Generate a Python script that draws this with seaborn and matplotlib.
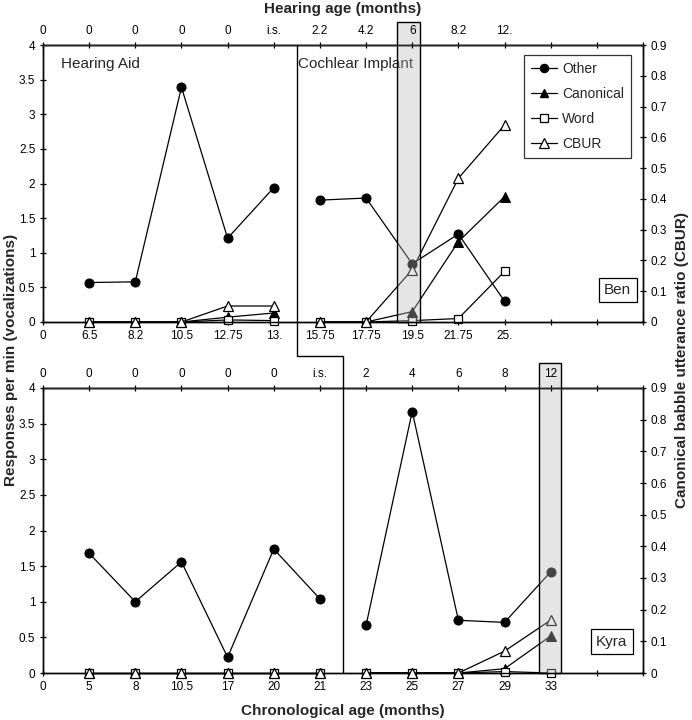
import matplotlib
matplotlib.use("Agg")
import matplotlib.pyplot as plt
import matplotlib.patches as mpatches
from matplotlib.lines import Line2D
import seaborn as sns
import numpy as np
import pandas as pd

sns.set_theme(style="white")
plt.rcParams['font.family'] = ['Liberation Sans', 'DejaVu Sans']

# ---------------- data ----------------
# Ben (top panel)
ben_chrono = ["0", "6.5", "8.2", "10.5", "12.75", "13.", "15.75", "17.75", "19.5", "21.75", "25.", "", ""]
ben_hearing = ["0", "0", "0", "0", "0", "i.s.", "2.2", "4.2", "6", "8.2", "12.", "", ""]
ben_ha_idx = [1, 2, 3, 4, 5]
ben_ci_idx = [6, 7, 8, 9, 10]
ben_other = [0.57, 0.58, 3.39, 1.21, 1.94, 1.76, 1.79, 0.84, 1.27, 0.30]
ben_canonical = [0.0, 0.0, 0.0, 0.07, 0.13, 0.0, 0.0, 0.15, 1.16, 1.81]
ben_word = [0.0, 0.0, 0.0, 0.03, 0.02, 0.0, 0.0, 0.02, 0.05, 0.73]
ben_cbur = [0.0, 0.0, 0.0, 0.052, 0.052, 0.0, 0.0, 0.17, 0.467, 0.64]

# Kyra (bottom panel)
kyra_chrono = ["0", "5", "8", "10.5", "17", "20", "21", "23", "25", "27", "29", "33", ""]
kyra_hearing = ["0", "0", "0", "0", "0", "0", "i.s.", "2", "4", "6", "8", "12", ""]
kyra_ha_idx = [1, 2, 3, 4, 5, 6]
kyra_ci_idx = [7, 8, 9, 10, 11]
kyra_other = [1.68, 1.00, 1.56, 0.22, 1.74, 1.04, 0.67, 3.67, 0.74, 0.71, 1.42]
kyra_canonical = [0.0, 0.0, 0.0, 0.0, 0.0, 0.0, 0.0, 0.0, 0.0, 0.06, 0.52]
kyra_word = [0.0, 0.0, 0.0, 0.0, 0.0, 0.0, 0.0, 0.0, 0.0, 0.02, 0.0]
kyra_cbur = [0.0, 0.0, 0.0, 0.0, 0.0, 0.0, 0.0, 0.0, 0.0, 0.069, 0.167]

series_names = ["Other", "Canonical", "Word", "CBUR"]

W, H, DPI = 692, 720, 100
fig = plt.figure(figsize=(W / DPI, H / DPI), dpi=DPI)

LW = 0.9
TICK_FS = 8.5
styles = {
    "Other": dict(marker="o", mfc="black", mec="black", ms=6.5),
    "Canonical": dict(marker="^", mfc="black", mec="black", ms=7),
    "Word": dict(marker="s", mfc="white", mec="black", ms=6, mew=0.9),
    "CBUR": dict(marker="^", mfc="white", mec="black", ms=7.5, mew=0.9),
}


def make_panel(rect, chrono, hearing, ha_idx, ci_idx, other, canonical, word, cbur,
               shade, name, name_box, show_section_labels, show_legend):
    ax = fig.add_axes(rect)
    ax2 = ax.twinx()
    n = len(chrono)
    pos = list(range(n))
    idx = ha_idx + ci_idx
    df = pd.DataFrame({
        "pos": idx * 4,
        "value": other + canonical + word + cbur,
        "series": np.repeat(series_names, len(idx)),
        "segment": (["HA"] * len(ha_idx) + ["CI"] * len(ci_idx)) * 4,
    })
    for s in series_names:
        target = ax2 if s == "CBUR" else ax
        for seg in ["HA", "CI"]:
            sub = df[(df.series == s) & (df.segment == seg)]
            sns.lineplot(data=sub, x="pos", y="value", ax=target, color="black",
                         linewidth=LW, estimator=None, sort=False, legend=False,
                         clip_on=False, zorder=3 if s != "Other" else 4,
                         **styles[s])
    ax.set_xlim(0, n)
    ax.set_ylim(0, 4)
    ax2.set_ylim(0, 0.9)
    ax.set_xticks(pos + [n])
    ax.set_xticklabels(chrono + [""], fontsize=TICK_FS)
    ax.set_yticks([0, 0.5, 1, 1.5, 2, 2.5, 3, 3.5, 4])
    ax.set_yticklabels(["0", "0.5", "1", "1.5", "2", "2.5", "3", "3.5", "4"], fontsize=TICK_FS)
    ax2.set_yticks(np.round(np.arange(0, 0.91, 0.1), 1))
    ax2.set_yticklabels(["0", "0.1", "0.2", "0.3", "0.4", "0.5", "0.6", "0.7", "0.8", "0.9"],
                        fontsize=TICK_FS)
    for a in (ax, ax2):
        a.set_xlabel("")
        a.set_ylabel("")
        for sp in a.spines.values():
            sp.set_color("black")
            sp.set_linewidth(1.0)
    ax.tick_params(axis="both", direction="inout", length=5, width=0.9, colors="black",
                   pad=3, left=True, bottom=True)
    ax2.tick_params(axis="y", direction="inout", length=5, width=0.9, colors="black",
                    pad=3, right=True)
    # top hearing-age axis
    sec = ax2.secondary_xaxis("top")
    sec.set_xticks(pos + [n])
    sec.set_xticklabels(hearing + [""], fontsize=TICK_FS)
    sec.tick_params(direction="inout", length=5, width=0.9, colors="black", pad=3)
    sec.spines["top"].set_linewidth(1.0)
    sec.set_zorder(20)
    # shaded column
    trans = matplotlib.transforms.blended_transform_factory(ax2.transData, ax2.transAxes)
    rect_p = mpatches.Rectangle((shade[0], 0), shade[1] - shade[0], shade[2],
                                transform=trans, facecolor=(0.73, 0.73, 0.73),
                                alpha=0.37, edgecolor="none", clip_on=False, zorder=10)
    ax2.add_patch(rect_p)
    rect_e = mpatches.Rectangle((shade[0], 0), shade[1] - shade[0], shade[2],
                                transform=trans, facecolor="none",
                                edgecolor="black", linewidth=1.0, clip_on=False, zorder=11)
    ax2.add_patch(rect_e)
    # child name box
    ax2.text(name_box[0], name_box[1], name, transform=ax2.transAxes, fontsize=11,
             ha="center", va="center", zorder=12,
             bbox=dict(boxstyle="square,pad=0.35", facecolor="white", edgecolor="black",
                       linewidth=0.9))
    if show_section_labels:
        ax.text(0.03, 0.955, "Hearing Aid", transform=ax.transAxes, fontsize=11,
                ha="left", va="top")
        ax.text(5.53, 3.82, "Cochlear Implant", fontsize=11, ha="left", va="top")
    if show_legend:
        handles = [Line2D([0], [0], color="black", linewidth=LW, **styles[s]) for s in series_names]
        leg = ax2.legend(handles, series_names, loc="upper right",
                         bbox_to_anchor=(0.98, 0.964), fontsize=10, frameon=True,
                         fancybox=False, edgecolor="black", handlelength=1.9,
                         labelspacing=0.8, borderpad=0.5, handletextpad=0.35,
                         markerscale=0.9, borderaxespad=0)
        leg.get_frame().set_linewidth(0.9)
        leg.set_zorder(30)
    return ax, ax2


# Top panel: x 43..643 px, y 45..322 px
top_rect = [43 / W, 1 - 322 / H, 600 / W, 277 / H]
bot_rect = [43 / W, 1 - 673 / H, 600 / W, 285 / H]

axA, axA2 = make_panel(top_rect, ben_chrono, ben_hearing, ben_ha_idx, ben_ci_idx,
                       ben_other, ben_canonical, ben_word, ben_cbur,
                       shade=(7.68, 8.17, 1.083), name="Ben", name_box=(0.958, 0.115),
                       show_section_labels=True, show_legend=True)
axB, axB2 = make_panel(bot_rect, kyra_chrono, kyra_hearing, kyra_ha_idx, kyra_ci_idx,
                       kyra_other, kyra_canonical, kyra_word, kyra_cbur,
                       shade=(10.75, 11.22, 1.088), name="Kyra", name_box=(0.948, 0.11),
                       show_section_labels=False, show_legend=False)

# Divider between hearing aid and cochlear implant periods (stepped line)
fig.canvas.draw()
inv = fig.transFigure.inverted()
xa = axA.transData.transform((5.5, 0))[0]
xb = axB.transData.transform((6.5, 0))[0]
pts_px = [(xa, H - 45), (xa, H - 356), (xb, H - 356), (xb, H - 673)]
pts_fig = inv.transform(pts_px)
fig.add_artist(Line2D(pts_fig[:, 0], pts_fig[:, 1], color="black", linewidth=1.0,
                      transform=fig.transFigure, zorder=5))

# Axis titles
fig.text(343 / W, 1 - 9 / H, "Hearing age (months)", fontsize=11, fontweight="bold",
         ha="center", va="center")
fig.text(343 / W, 1 - 711 / H, "Chronological age (months)", fontsize=11,
         fontweight="bold", ha="center", va="center")
fig.text(11 / W, 1 - 360 / H, "Responses per min (vocalizations)", fontsize=11,
         fontweight="bold", rotation=90, ha="center", va="center")
fig.text(682 / W, 1 - 360 / H, "Canonical babble utterance ratio (CBUR)", fontsize=11,
         fontweight="bold", rotation=90, ha="center", va="center")

fig.savefig("out.png", dpi=DPI, facecolor="white")
